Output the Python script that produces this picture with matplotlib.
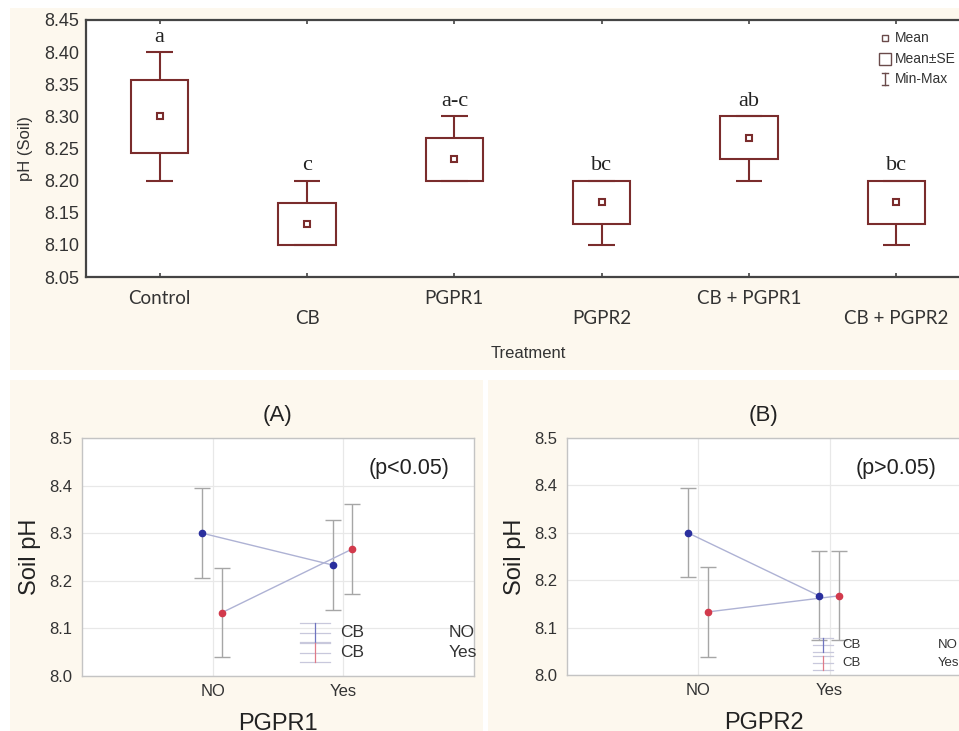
import numpy as np
import matplotlib
matplotlib.use("Agg")
import matplotlib.pyplot as plt
from matplotlib.patches import Rectangle

# ---------------- data ----------------
treatments = ["Control", "CB", "PGPR1", "PGPR2", "CB + PGPR1", "CB + PGPR2"]
box_mean = [8.300, 8.133, 8.233, 8.167, 8.267, 8.167]
box_se_hi = [8.357, 8.165, 8.267, 8.200, 8.300, 8.200]
box_se_lo = [8.243, 8.100, 8.200, 8.133, 8.233, 8.133]
box_max = [8.40, 8.20, 8.30, 8.20, 8.30, 8.20]
box_min = [8.20, 8.10, 8.20, 8.10, 8.20, 8.10]
letters = ["a", "c", "a-c", "bc", "ab", "bc"]

levels = ["NO", "Yes"]
a_cb_no_mean = [8.300, 8.233]
a_cb_no_err = [0.094, 0.094]
a_cb_yes_mean = [8.133, 8.267]
a_cb_yes_err = [0.093, 0.094]

b_cb_no_mean = [8.300, 8.167]
b_cb_no_err = [0.094, 0.094]
b_cb_yes_mean = [8.133, 8.167]
b_cb_yes_err = [0.094, 0.094]

# ---------------- layout helpers ----------------
W, H = 959, 731
def rect(l, t, r, b):
    return [l / W, 1 - b / H, (r - l) / W, (b - t) / H]

CREAM = "#fdf8ee"
BOXC = "#7a2c2c"
TXT = "#333333"

fig = plt.figure(figsize=(W / 100, H / 100), dpi=100, facecolor="white")
for (l, t, r, b) in [(10, 8, 959, 370), (10, 380, 483, 731), (488, 380, 959, 731)]:
    fig.patches.append(Rectangle((l / W, 1 - b / H), (r - l) / W, (b - t) / H,
                                 transform=fig.transFigure, facecolor=CREAM,
                                 edgecolor="none", zorder=-5))

# ---------------- top box panel ----------------
ax = fig.add_axes(rect(86, 20, 970, 277))
ax.set_facecolor("white")
x = np.arange(len(treatments))
bw, cw = 0.39, 0.18
for i in x:
    ax.add_patch(Rectangle((i - bw / 2, box_se_lo[i]), bw, box_se_hi[i] - box_se_lo[i],
                           facecolor="none", edgecolor=BOXC, lw=1.5, zorder=3))
ax.vlines(x, box_se_hi, box_max, color=BOXC, lw=1.5, zorder=3)
ax.vlines(x, box_min, box_se_lo, color=BOXC, lw=1.5, zorder=3)
ax.hlines(box_max, x - cw / 2, x + cw / 2, color=BOXC, lw=1.5, zorder=3)
ax.hlines(box_min, x - cw / 2, x + cw / 2, color=BOXC, lw=1.5, zorder=3)
ax.plot(x, box_mean, "s", ms=5, mfc="white", mec=BOXC, mew=1.5, zorder=4)
for i, lt in enumerate(letters):
    ax.annotate(lt, (i, box_max[i]), xytext=(0, 7.5), textcoords="offset points",
                ha="center", va="baseline", family="Liberation Serif", fontsize=16,
                color="#222222")
ax.set_xlim(-0.5, 5.5)
ax.set_ylim(8.05, 8.45)
ax.set_yticks(np.arange(8.05, 8.451, 0.05))
ax.set_yticklabels([f"{v:.2f}" for v in np.arange(8.05, 8.451, 0.05)],
                   family="Liberation Sans", fontsize=13, color=TXT)
ax.set_xticks(x)
ax.set_xticklabels([t if i % 2 == 0 else "\n" + t for i, t in enumerate(treatments)],
                   family="Lato", fontsize=13.5, color=TXT, linespacing=1.25)
ax.tick_params(axis="y", length=0, pad=5)
ax.tick_params(axis="x", direction="in", length=3, top=True, width=1.2,
               color="#444444", pad=9)
for s in ax.spines.values():
    s.set_color("#444444")
    s.set_linewidth(1.6)
ax.set_ylabel("pH (Soil)", family="Liberation Sans", fontsize=12, color=TXT, labelpad=8)
fig.text(528 / W, 1 - 353 / H, "Treatment", family="Liberation Sans", fontsize=12,
         color=TXT, ha="center", va="center")

# legend (top panel)
leg_items = [("Mean", "s", 4, 38), ("Mean\u00b1SE", "s", 9, 59), ("Min-Max", None, 0, 79)]
for lab, mk, ms, yy in leg_items:
    if mk:
        fig.lines.append(plt.Line2D([885 / W], [1 - yy / H], marker=mk, ms=ms,
                                    mfc="white", mec="#6a4a4a", mew=1,
                                    transform=fig.transFigure, linestyle="none"))
    else:
        fig.lines.append(plt.Line2D([885 / W, 885 / W], [1 - (yy - 6) / H, 1 - (yy + 6) / H],
                                    color="#6a4a4a", lw=1, transform=fig.transFigure))
        for dy in (-6, 6):
            fig.lines.append(plt.Line2D([882 / W, 888 / W], [1 - (yy + dy) / H] * 2,
                                        color="#6a4a4a", lw=1, transform=fig.transFigure))
    fig.text(895 / W, 1 - yy / H, lab, family="Liberation Sans", fontsize=10,
             color=TXT, ha="left", va="center")

# ---------------- interaction panels ----------------
BLUE = "#2a2f9e"
RED = "#d23a4c"
LINEC = "#aeb2d4"
ERRC = "#a6a6a6"


def interaction(ax, no_m, no_e, yes_m, yes_e, title, ptxt, xlabel, legx, legfs, legy):
    xi = np.arange(len(levels))
    ax.set_facecolor("white")
    ax.errorbar(xi - 0.08, no_m, yerr=no_e, fmt="none", ecolor=ERRC, elinewidth=1,
                capsize=6, capthick=1, zorder=2)
    ax.errorbar(xi + 0.07, yes_m, yerr=yes_e, fmt="none", ecolor=ERRC, elinewidth=1,
                capsize=6, capthick=1, zorder=2)
    ax.plot(xi - 0.08, no_m, "-", color=LINEC, lw=1, zorder=3)
    ax.plot(xi + 0.07, yes_m, "-", color=LINEC, lw=1, zorder=3)
    ax.plot(xi - 0.08, no_m, "o", color=BLUE, ms=4.5, zorder=4)
    ax.plot(xi + 0.07, yes_m, "o", color=RED, ms=4.5, zorder=4)
    ax.set_xlim(-1, 2)
    ax.set_ylim(8.0, 8.5)
    ax.set_yticks(np.arange(8.0, 8.51, 0.1))
    ax.set_yticklabels([f"{v:.1f}" for v in np.arange(8.0, 8.51, 0.1)],
                       family="Liberation Sans", fontsize=12, color=TXT)
    ax.set_xticks(xi)
    ax.set_xticklabels(levels, family="Liberation Sans", fontsize=12, color=TXT)
    ax.tick_params(length=0)
    ax.tick_params(axis="y", pad=7)
    ax.tick_params(axis="x", pad=6)
    ax.grid(True, color="#e8e8e8", lw=0.9)
    ax.set_axisbelow(True)
    for s in ax.spines.values():
        s.set_color("#c4c4c4")
        s.set_linewidth(1)
    ax.set_ylabel("Soil pH", family="Liberation Sans", fontsize=17, color="#222222",
                  labelpad=6)
    ax.set_xlabel(xlabel, family="Liberation Sans", fontsize=17, color="#222222",
                  labelpad=10)
    ax.set_title(title, family="Liberation Sans", fontsize=16, color="#222222", pad=12)
    ax.text(0.835, 0.87, ptxt, transform=ax.transAxes, family="Liberation Sans",
            fontsize=15.5, color="#222222", ha="center", va="center")
    # legend
    x0, x1, xt, xr = legx
    hh = legy[2]
    for yy, col, lvl in [(legy[0], "#6f74c0", "NO"), (legy[1], "#e07a88", "Yes")]:
        for dy in (-hh, 0, hh):
            ax.plot([x0, x1], [yy + dy] * 2, color="#c8c8dc", lw=0.9,
                    transform=ax.transAxes, clip_on=False)
        xm = (x0 + x1) / 2
        ax.plot([xm, xm], [yy - hh, yy + hh], color=col, lw=0.9,
                transform=ax.transAxes, clip_on=False)
        ax.text(xt, yy, "CB", transform=ax.transAxes, family="Liberation Sans",
                fontsize=legfs, color=TXT, ha="left", va="center")
        ax.text(xr, yy, lvl, transform=ax.transAxes, family="Liberation Sans",
                fontsize=legfs, color=TXT, ha="left", va="center")


axA = fig.add_axes(rect(82, 438, 474, 676))
interaction(axA, a_cb_no_mean, a_cb_no_err, a_cb_yes_mean, a_cb_yes_err,
            "(A)", "(p<0.05)", "PGPR1", (0.556, 0.633, 0.658, 0.935), 12.5,
            (0.181, 0.097, 0.04))

axB = fig.add_axes(rect(567, 438, 961, 675))
interaction(axB, b_cb_no_mean, b_cb_no_err, b_cb_yes_mean, b_cb_yes_err,
            "(B)", "(p>0.05)", "PGPR2", (0.624, 0.675, 0.700, 0.942), 9.5,
            (0.127, 0.051, 0.03))

fig.savefig("out.png", dpi=100, facecolor="white")
